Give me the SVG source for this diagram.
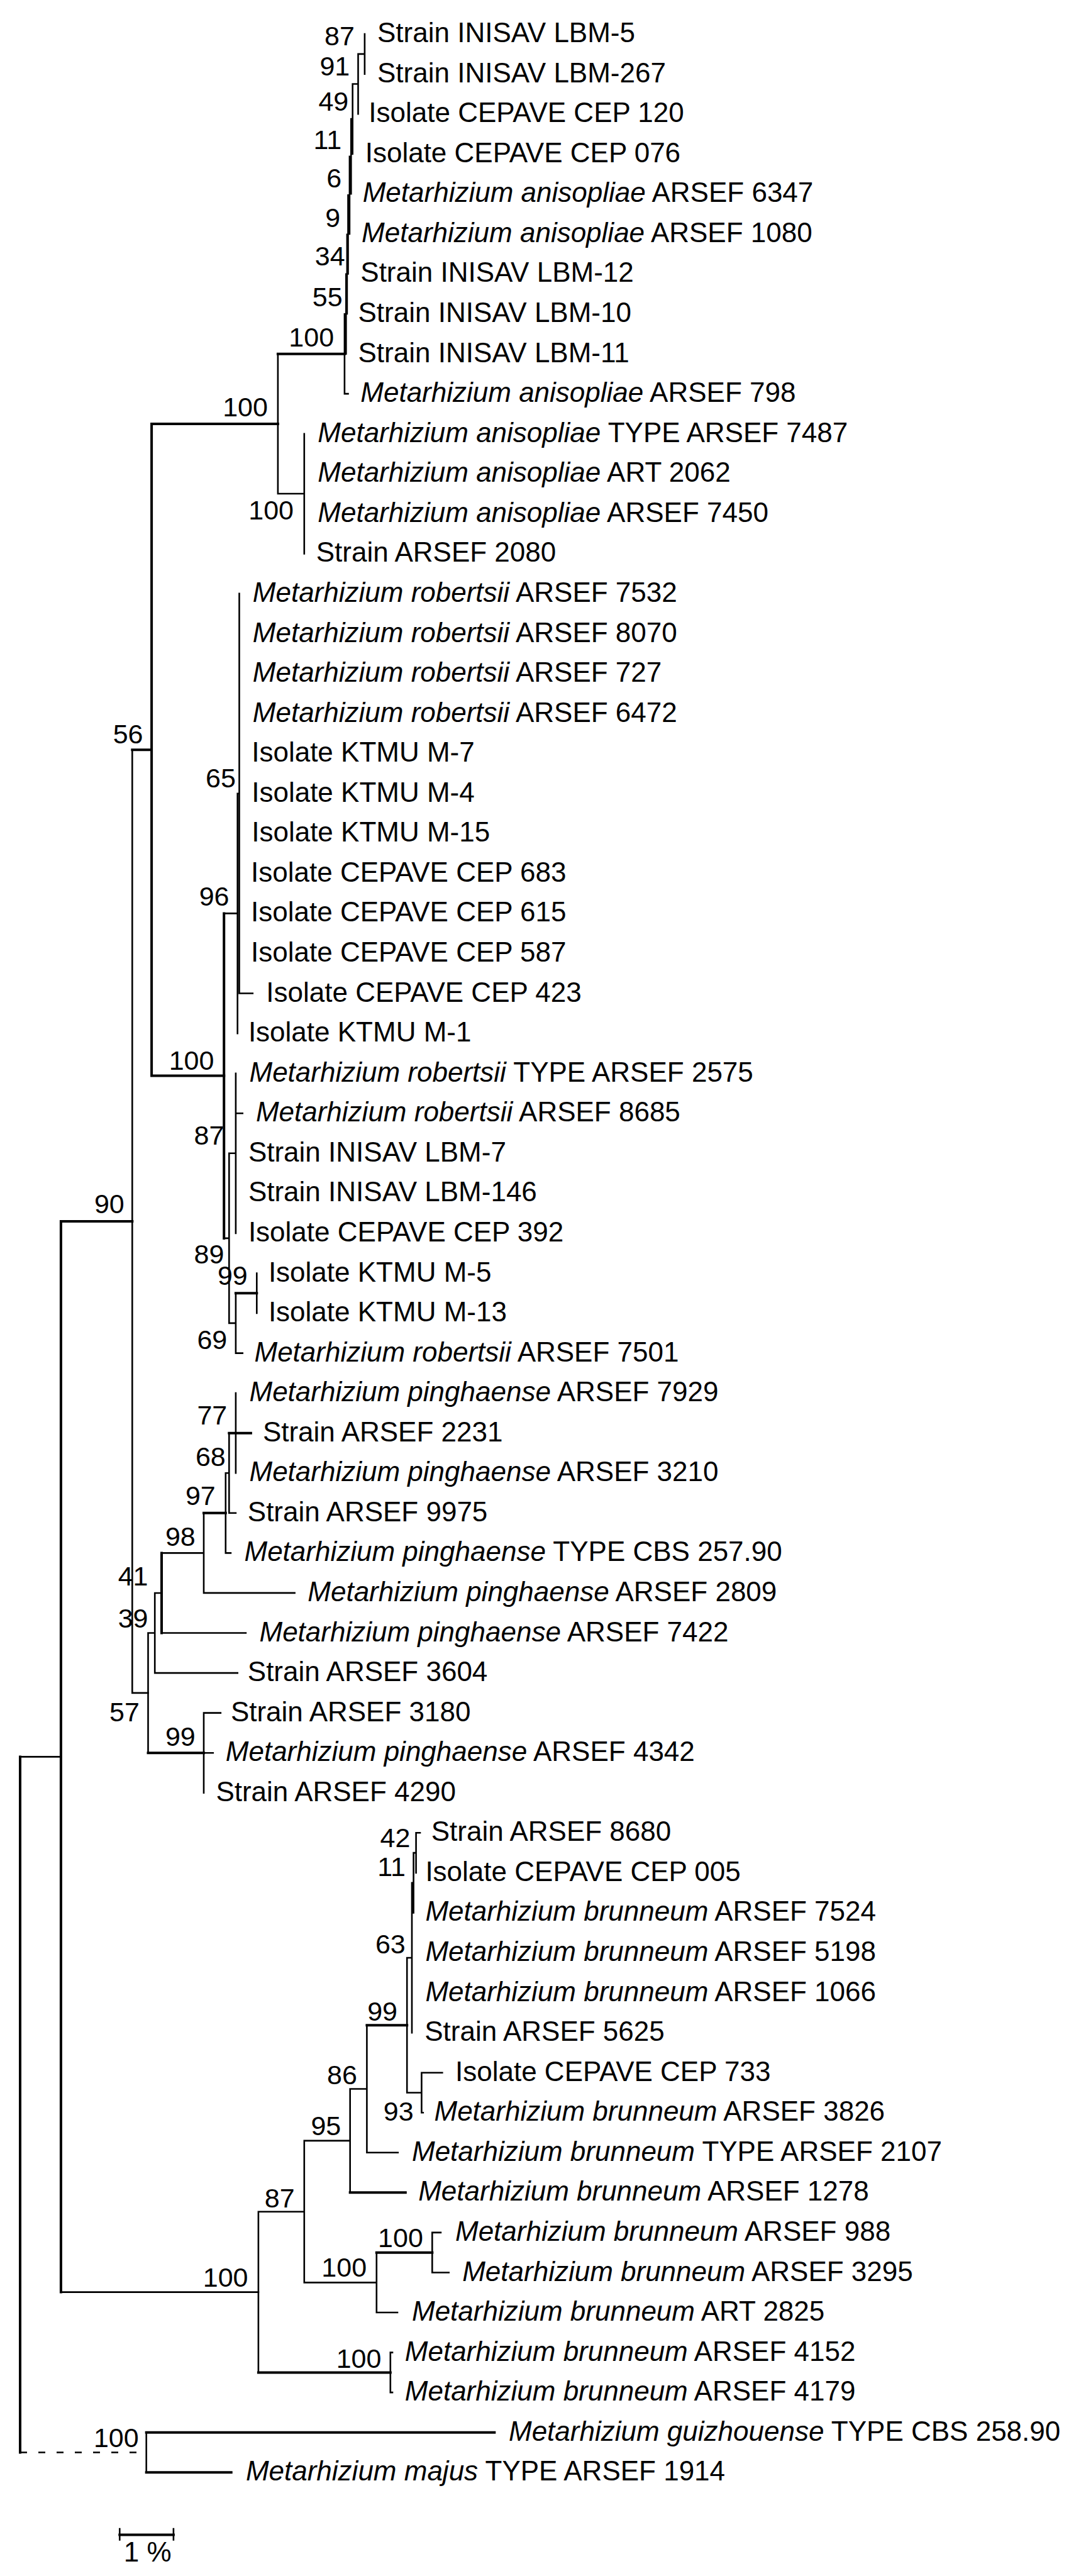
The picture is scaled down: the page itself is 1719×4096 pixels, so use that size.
<svg xmlns="http://www.w3.org/2000/svg" width="1719" height="4096" viewBox="0 0 1719 4096">
<style>
.e{stroke:#000;stroke-width:2.6;fill:none;stroke-linecap:square}
.b{stroke-width:4}
.d{stroke-dasharray:11 18;stroke-linecap:butt}
text{font-family:"Liberation Sans",Arial,sans-serif;fill:#000}
.t{font-size:44px}
.s{font-size:43px;text-anchor:end}
.i{font-style:italic}
</style>
<rect width="1719" height="4096" fill="#fff"/>
<g id="connectors">
<path class="e" d="M32,2793.4H96.9 M96.9,3644.6H410.9 M210.3,1192.3V2691.9 M210.3,2691.9H235.5 M441.9,562.7V785 M441.9,785H483.8 M483.8,689.7V880.4"/>
<path class="e b" d="M32,2793.4V3899.5 M96.9,1942.1V3644.6 M96.9,1942.1H210.3 M210.3,1192.3H241.1 M241.1,673.9V1710.6 M241.1,673.9H441.9 M241.1,1710.6H356.2 M441.9,562.7H547.9"/>
<path class="e d" d="M32,3899.5H232.7"/>
<path class="e" d="M547.9,499.3V626.1 M547.9,626.1H553.5 M547.9,499.3H550.3 M550.3,435.9V562.6 M550.3,435.9H551.9 M551.9,372.9V499 M551.9,372.9H553.5 M553.5,310.3V435.4 M553.5,310.3H555.9 M555.9,248.7V371.9 M555.9,248.7H558.3 M558.3,189.1V308.3 M558.3,189.1H560.7 M560.7,133.5V244.7 M560.7,133.5H569.5 M569.5,85.85V181.2 M569.5,85.85H579.9 M579.9,54.1V117.6"/>
<path class="e" d="M356.2,1452.4H377.7 M356.2,1968.9H364.3 M377.7,1261.7V1643.1 M377.7,1261.7H380.5 M380.5,943.9V1579.5 M380.5,1579.5H401.8 M364.3,1833.8V2103.9 M364.3,1833.8H374.9 M364.3,2103.9H374.9 M374.9,1706.7V1960.9 M374.9,1770.2H385.7 M374.9,2056.2V2151.6 M374.9,2151.6H385.7 M408.3,2024.5V2088"/>
<path class="e b" d="M356.2,1452.4V1968.9 M374.9,2056.2H408.3"/>
<path class="e" d="M235.5,2596.5V2787.2 M235.5,2596.5H246.2 M324,2723.6V2850.7 M324,2723.6H350.8 M324,2787.2H338.8 M246.2,2533V2660.1 M246.2,2533H257 M246.2,2660.1H377.7 M257,2469.4H324 M257,2596.5H390.9 M324,2405.8V2532.9 M324,2532.9H468.6 M358.8,2342.3V2469.4 M358.8,2342.3H364.3 M358.8,2469.4H366.9 M364.3,2278.7V2405.8 M364.3,2405.8H374.9 M374.9,2215.1V2342.3"/>
<path class="e b" d="M235.5,2787.2H324 M257,2469.4V2596.5 M324,2405.8H358.8 M364.3,2278.7H398.9"/>
<path class="e" d="M410.9,3516.7V3772.4 M410.9,3516.7H483.8 M620.8,3740.6V3804.1 M620.8,3740.6H624 M620.8,3804.1H624 M483.8,3403.9V3629.4 M483.8,3403.9H556.7 M483.8,3629.4H598.8 M598.8,3581.7V3677 M598.8,3677H632 M687.3,3549.9V3613.5 M687.3,3549.9H700.9 M687.3,3613.5H713.7 M556.7,3321.5V3486.3 M556.7,3321.5H583.4 M583.4,3220.2V3422.8 M583.4,3422.8H632.8 M647.2,3113V3327.5 M647.2,3113H655 M647.2,3327.5H670.4 M670.4,3295.7V3359.2 M670.4,3295.7H703.3 M670.4,3359.2H672.8 M655,2993.8V3232.1 M655,2993.8H657.6 M657.6,2946.1V3041.4 M657.6,2946.1H661.6 M661.6,2914.3V2977.9 M661.6,2914.3H668 M232.7,3867.7V3931.3"/>
<path class="e b" d="M410.9,3772.4H620.8 M598.8,3581.7H687.3 M556.7,3486.3H644.8 M583.4,3220.2H647.2 M232.7,3867.7H786.3 M232.7,3931.3H367.7"/>
<path class="e b" d="M190.3,4030.4H275.9"/>
<path class="e" d="M190.3,4021V4038.4 M275.9,4021V4038.4"/>
</g>
<g id="support" class="s">
<text class="s" x="563.9" y="72.1">87</text>
<text class="s" x="556.3" y="120.2">91</text>
<text class="s" x="554.3" y="176.2">49</text>
<text class="s" x="543.1" y="237.1">11</text>
<text class="s" x="543.1" y="298">6</text>
<text class="s" x="541.2" y="361.3">9</text>
<text class="s" x="548.7" y="422.1">34</text>
<text class="s" x="544.7" y="487">55</text>
<text class="s" x="531.1" y="551.1">100</text>
<text class="s" x="425.9" y="662.2">100</text>
<text class="s" x="467" y="825.8">100</text>
<text class="s" x="227.5" y="1182.3">56</text>
<text class="s" x="374.9" y="1252">65</text>
<text class="s" x="364.5" y="1440.2">96</text>
<text class="s" x="340.4" y="1700.5">100</text>
<text class="s" x="356.4" y="1819.9">87</text>
<text class="s" x="197.8" y="1928.8">90</text>
<text class="s" x="356.4" y="2008.9">89</text>
<text class="s" x="393.8" y="2043.4">99</text>
<text class="s" x="361.3" y="2145.1">69</text>
<text class="s" x="361.3" y="2265.2">77</text>
<text class="s" x="358.8" y="2330.9">68</text>
<text class="s" x="342.8" y="2393.4">97</text>
<text class="s" x="310.8" y="2457.5">98</text>
<text class="s" x="235.5" y="2520.7">41</text>
<text class="s" x="235.5" y="2588">39</text>
<text class="s" x="221.9" y="2737">57</text>
<text class="s" x="310.8" y="2776.3">99</text>
<text class="s" x="652.4" y="2936.9">42</text>
<text class="s" x="644.8" y="2982.9">11</text>
<text class="s" x="644.8" y="3105.5">63</text>
<text class="s" x="632" y="3212.8">99</text>
<text class="s" x="567.9" y="3313.7">86</text>
<text class="s" x="657.6" y="3372.2">93</text>
<text class="s" x="542.3" y="3394.6">95</text>
<text class="s" x="468.6" y="3510">87</text>
<text class="s" x="672.8" y="3573.3">100</text>
<text class="s" x="583.1" y="3619.7">100</text>
<text class="s" x="394.5" y="3635.7">100</text>
<text class="s" x="606.4" y="3764.7">100</text>
<text class="s" x="220.7" y="3890.5">100</text>
</g>
<g id="taxa" class="t">
<g id="n1"><text class="t" x="600" y="67.1">Strain INISAV LBM-5</text></g>
<g id="n2"><text class="t" x="600" y="130.6">Strain INISAV LBM-267</text></g>
<g id="n3"><text class="t" x="586.3" y="194.2">Isolate CEPAVE CEP 120</text></g>
<g id="n4"><text class="t" x="580.7" y="257.7">Isolate CEPAVE CEP 076</text></g>
<g id="n5"><text class="t" x="576.7" y="321.3"><tspan class="i">Metarhizium anisopliae</tspan> ARSEF 6347</text></g>
<g id="n6"><text class="t" x="575.1" y="384.9"><tspan class="i">Metarhizium anisopliae</tspan> ARSEF 1080</text></g>
<g id="n7"><text class="t" x="573.3" y="448.4">Strain INISAV LBM-12</text></g>
<g id="n8"><text class="t" x="569.5" y="512">Strain INISAV LBM-10</text></g>
<g id="n9"><text class="t" x="569.5" y="575.6">Strain INISAV LBM-11</text></g>
<g id="n10"><text class="t" x="573.3" y="639.1"><tspan class="i">Metarhizium anisopliae</tspan> ARSEF 798</text></g>
<g id="n11"><text class="t" x="505.3" y="702.7"><tspan class="i">Metarhizium anisopliae</tspan> TYPE ARSEF 7487</text></g>
<g id="n12"><text class="t" x="505.3" y="766.2"><tspan class="i">Metarhizium anisopliae</tspan> ART 2062</text></g>
<g id="n13"><text class="t" x="505.3" y="829.8"><tspan class="i">Metarhizium anisopliae</tspan> ARSEF 7450</text></g>
<g id="n14"><text class="t" x="502.7" y="893.4">Strain ARSEF 2080</text></g>
<g id="n15"><text class="t" x="401.8" y="956.9"><tspan class="i">Metarhizium robertsii</tspan> ARSEF 7532</text></g>
<g id="n16"><text class="t" x="401.8" y="1020.5"><tspan class="i">Metarhizium robertsii</tspan> ARSEF 8070</text></g>
<g id="n17"><text class="t" x="401.8" y="1084"><tspan class="i">Metarhizium robertsii</tspan> ARSEF 727</text></g>
<g id="n18"><text class="t" x="401.8" y="1147.6"><tspan class="i">Metarhizium robertsii</tspan> ARSEF 6472</text></g>
<g id="n19"><text class="t" x="400.2" y="1211.2">Isolate KTMU M-7</text></g>
<g id="n20"><text class="t" x="400.2" y="1274.7">Isolate KTMU M-4</text></g>
<g id="n21"><text class="t" x="400.2" y="1338.3">Isolate KTMU M-15</text></g>
<g id="n22"><text class="t" x="399.1" y="1401.9">Isolate CEPAVE CEP 683</text></g>
<g id="n23"><text class="t" x="399.1" y="1465.4">Isolate CEPAVE CEP 615</text></g>
<g id="n24"><text class="t" x="399.1" y="1529">Isolate CEPAVE CEP 587</text></g>
<g id="n25"><text class="t" x="423.3" y="1592.5">Isolate CEPAVE CEP 423</text></g>
<g id="n26"><text class="t" x="394.9" y="1656.1">Isolate KTMU M-1</text></g>
<g id="n27"><text class="t" x="396.5" y="1719.7"><tspan class="i">Metarhizium robertsii</tspan> TYPE ARSEF 2575</text></g>
<g id="n28"><text class="t" x="406.9" y="1783.2"><tspan class="i">Metarhizium robertsii</tspan> ARSEF 8685</text></g>
<g id="n29"><text class="t" x="394.9" y="1846.8">Strain INISAV LBM-7</text></g>
<g id="n30"><text class="t" x="394.9" y="1910.3">Strain INISAV LBM-146</text></g>
<g id="n31"><text class="t" x="394.9" y="1973.9">Isolate CEPAVE CEP 392</text></g>
<g id="n32"><text class="t" x="426.9" y="2037.5">Isolate KTMU M-5</text></g>
<g id="n33"><text class="t" x="426.9" y="2101">Isolate KTMU M-13</text></g>
<g id="n34"><text class="t" x="404.5" y="2164.6"><tspan class="i">Metarhizium robertsii</tspan> ARSEF 7501</text></g>
<g id="n35"><text class="t" x="396.5" y="2228.1"><tspan class="i">Metarhizium pinghaense</tspan> ARSEF 7929</text></g>
<g id="n36"><text class="t" x="417.9" y="2291.7">Strain ARSEF 2231</text></g>
<g id="n37"><text class="t" x="396.5" y="2355.3"><tspan class="i">Metarhizium pinghaense</tspan> ARSEF 3210</text></g>
<g id="n38"><text class="t" x="393.8" y="2418.8">Strain ARSEF 9975</text></g>
<g id="n39"><text class="t" x="388.5" y="2482.4"><tspan class="i">Metarhizium pinghaense</tspan> TYPE CBS 257.90</text></g>
<g id="n40"><text class="t" x="489.3" y="2545.9"><tspan class="i">Metarhizium pinghaense</tspan> ARSEF 2809</text></g>
<g id="n41"><text class="t" x="412.5" y="2609.5"><tspan class="i">Metarhizium pinghaense</tspan> ARSEF 7422</text></g>
<g id="n42"><text class="t" x="393.8" y="2673.1">Strain ARSEF 3604</text></g>
<g id="n43"><text class="t" x="366.9" y="2736.6">Strain ARSEF 3180</text></g>
<g id="n44"><text class="t" x="358.8" y="2800.2"><tspan class="i">Metarhizium pinghaense</tspan> ARSEF 4342</text></g>
<g id="n45"><text class="t" x="343.4" y="2863.7">Strain ARSEF 4290</text></g>
<g id="n46"><text class="t" x="685.7" y="2927.3">Strain ARSEF 8680</text></g>
<g id="n47"><text class="t" x="676.4" y="2990.9">Isolate CEPAVE CEP 005</text></g>
<g id="n48"><text class="t" x="676.4" y="3054.4"><tspan class="i">Metarhizium brunneum</tspan> ARSEF 7524</text></g>
<g id="n49"><text class="t" x="676.4" y="3118"><tspan class="i">Metarhizium brunneum</tspan> ARSEF 5198</text></g>
<g id="n50"><text class="t" x="676.4" y="3181.5"><tspan class="i">Metarhizium brunneum</tspan> ARSEF 1066</text></g>
<g id="n51"><text class="t" x="675.2" y="3245.1">Strain ARSEF 5625</text></g>
<g id="n52"><text class="t" x="724" y="3308.7">Isolate CEPAVE CEP 733</text></g>
<g id="n53"><text class="t" x="690.5" y="3372.2"><tspan class="i">Metarhizium brunneum</tspan> ARSEF 3826</text></g>
<g id="n54"><text class="t" x="655" y="3435.8"><tspan class="i">Metarhizium brunneum</tspan> TYPE ARSEF 2107</text></g>
<g id="n55"><text class="t" x="665.2" y="3499.3"><tspan class="i">Metarhizium brunneum</tspan> ARSEF 1278</text></g>
<g id="n56"><text class="t" x="724" y="3562.9"><tspan class="i">Metarhizium brunneum</tspan> ARSEF 988</text></g>
<g id="n57"><text class="t" x="735.2" y="3626.5"><tspan class="i">Metarhizium brunneum</tspan> ARSEF 3295</text></g>
<g id="n58"><text class="t" x="655" y="3690"><tspan class="i">Metarhizium brunneum</tspan> ART 2825</text></g>
<g id="n59"><text class="t" x="643.8" y="3753.6"><tspan class="i">Metarhizium brunneum</tspan> ARSEF 4152</text></g>
<g id="n60"><text class="t" x="643.8" y="3817.1"><tspan class="i">Metarhizium brunneum</tspan> ARSEF 4179</text></g>
<g id="n61"><text class="t" x="809" y="3880.7"><tspan class="i">Metarhizium guizhouense</tspan> TYPE CBS 258.90</text></g>
<g id="n62"><text class="t" x="390.9" y="3944.3"><tspan class="i">Metarhizium majus</tspan> TYPE ARSEF 1914</text></g>
</g>
<g id="scale"><text class="t" x="234.7" y="4073" text-anchor="middle">1 %</text></g>
</svg>
